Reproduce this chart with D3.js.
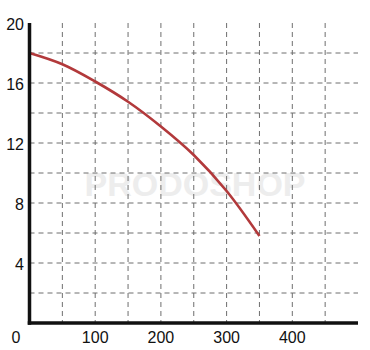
<!DOCTYPE html>
<html>
<head>
<meta charset="utf-8">
<script src="https://cdn.jsdelivr.net/npm/d3@7"></script>
<style>
  html, body { margin: 0; padding: 0; background: #fff; }
  text { font-family: "Liberation Sans", Arial, sans-serif; }
</style>
</head>
<body>
<div id="chart"></div>
<script>
// flow (x) vs head (y)
const flow = [0, 50, 100, 150, 200, 250, 300, 350];
const head = [18, 17.25, 16.1, 14.75, 13.1, 11.2, 8.8, 5.8];
const xTicks = [100, 200, 300, 400];
const yTicks = [4, 8, 12, 16, 20];
const xGrid = [50, 100, 150, 200, 250, 300, 350, 400, 450];
const yGrid = [2, 4, 6, 8, 10, 12, 14, 16, 18];

const width = 370, height = 350;
const margin = {top: 23, right: 12, bottom: 27, left: 29.5};

const svg = d3.select("#chart").append("svg")
    .attr("width", width)
    .attr("height", height);

const x = d3.scaleLinear().domain([0, 500]).range([margin.left, 358]);
const y = d3.scaleLinear().domain([0, 20]).range([height - margin.bottom, margin.top]);

// watermark
svg.append("text")
    .attr("x", 195)
    .attr("y", 196)
    .attr("text-anchor", "middle")
    .style("font-size", "34px")
    .style("font-weight", "bold")
    .style("fill", "#ededed")
    .text("PRODOSHOP");

// grid
svg.append("g").selectAll("line")
    .data(xGrid)
    .enter().append("line")
    .attr("x1", d => x(d)).attr("x2", d => x(d))
    .attr("y1", y(20)).attr("y2", y(0))
    .attr("stroke", "#6e6e6e")
    .attr("stroke-width", 1)
    .attr("stroke-dasharray", "5,4");

svg.append("g").selectAll("line")
    .data(yGrid)
    .enter().append("line")
    .attr("x1", x(0)).attr("x2", x(500))
    .attr("y1", d => y(d)).attr("y2", d => y(d))
    .attr("stroke", "#6e6e6e")
    .attr("stroke-width", 1)
    .attr("stroke-dasharray", "5,4");

// curve
const line = d3.line()
    .x((d, i) => x(flow[i]))
    .y(d => y(d))
    .curve(d3.curveCatmullRom);

svg.append("path")
    .datum(head)
    .attr("fill", "none")
    .attr("stroke", "#b2393b")
    .attr("stroke-width", 2.6)
    .attr("d", line);

// axes
svg.append("line")
    .attr("x1", x(0)).attr("x2", x(0))
    .attr("y1", y(20)).attr("y2", y(0) + 1.75)
    .attr("stroke", "#111").attr("stroke-width", 3.5);

svg.append("line")
    .attr("x1", x(0) - 1.75).attr("x2", x(500))
    .attr("y1", y(0)).attr("y2", y(0))
    .attr("stroke", "#111").attr("stroke-width", 3.5);

// labels
svg.append("g").selectAll("text")
    .data(yTicks)
    .enter().append("text")
    .attr("x", 24)
    .attr("y", d => y(d) + 7)
    .attr("text-anchor", "end")
    .style("font-size", "16px")
    .style("fill", "#111")
    .text(d => d);

svg.append("g").selectAll("text")
    .data(xTicks)
    .enter().append("text")
    .attr("x", d => x(d))
    .attr("y", 343)
    .attr("text-anchor", "middle")
    .style("font-size", "16px")
    .style("fill", "#111")
    .text(d => d);

svg.append("text")
    .attr("x", 16)
    .attr("y", 343)
    .attr("text-anchor", "middle")
    .style("font-size", "16px")
    .style("fill", "#111")
    .text("0");
</script>
</body>
</html>
